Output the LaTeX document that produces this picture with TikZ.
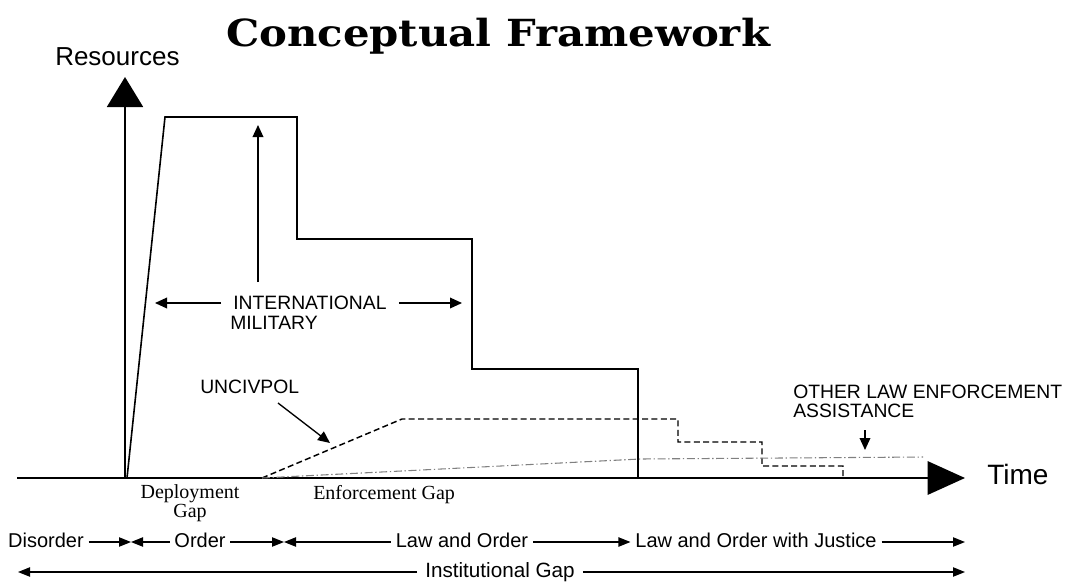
\documentclass[tikz,border=0pt]{standalone}
\usepackage{fontspec}
\setmainfont{Liberation Sans}
\newfontfamily\titlefont[FakeStretch=1.12]{DejaVu Serif}
\newfontfamily\gapfont{Liberation Serif}
\usepackage{tikz}
\usetikzlibrary{arrows.meta, positioning}
\tikzstyle{axisline} = [draw, line width=1.5pt]
\tikzstyle{milline} = [draw, line width=1.2pt, line join=miter]
\tikzstyle{police} = [draw, line width=1.1pt, dash pattern=on 4.5pt off 2.5pt]
\tikzstyle{otherline} = [draw, gray, line width=0.8pt, dash pattern=on 6pt off 2pt on 1pt off 2pt]
\tikzstyle{pointer} = [draw, line width=1pt, -{Triangle[length=9pt, width=8pt]}]
\tikzstyle{phasearrow} = [draw, line width=0.9pt, -{Triangle[length=9pt, width=7pt]}]
\tikzstyle{txt} = [inner sep=0, font=\fontsize{14.5}{16}\selectfont]
\tikzstyle{phase} = [txt, inner xsep=3.5pt, text height=10.5pt, text depth=3pt, font=\fontsize{15}{17}\selectfont]
\tikzstyle{gap} = [txt, font=\gapfont\fontsize{15}{17}\selectfont]

\begin{document}
\begin{tikzpicture}[x=0.75pt, y=-0.75pt]
			\useasboundingbox (0,0) rectangle (1071,583);
			% Place nodes
			\node [inner sep=0, anchor=base, font=\titlefont\bfseries\fontsize{28}{32}\selectfont] (title) at (498,46) {Conceptual Framework};
			\node [txt, anchor=base west, font=\fontsize{19.5}{22}\selectfont] (resources) at (55,65) {Resources};
			\node [txt, anchor=base west, font=\fontsize{21}{24}\selectfont] (time) at (987,484) {Time};
			
			\node [txt, anchor=west, inner xsep=9pt] (intl) at (221,303) {INTERNATIONAL};
			\node [txt, anchor=west] (mil) at (230,323) {MILITARY};
			\node [txt, anchor=west] (civpol) at (200,387) {UNCIVPOL};
			\node [txt, anchor=west] (olea) at (793,392) {OTHER LAW ENFORCEMENT};
			\node [txt, anchor=west] (assist) at (793,411) {ASSISTANCE};
			
			\node [gap, anchor=base] (deploy) at (190,498) {Deployment};
			\node [gap, anchor=base] (deploygap) at (190,517) {Gap};
			\node [gap, anchor=base west] (enforce) at (313,499) {Enforcement Gap};
			
			\node [phase] (disorder) at (46,542) {Disorder};
			\node [phase] (order) at (200,542) {Order};
			\node [phase] (law) at (462,542) {Law and Order};
			\node [phase] (justice) at (756,542) {Law and Order with Justice};
			\node [phase, inner xsep=6pt, font=\fontsize{15.5}{18}\selectfont] (inst) at (500,572) {Institutional Gap};
			
			\coordinate (origin) at (125,478);
			\coordinate (ytip) at (125,77);
			\coordinate (xstart) at (17,478);
			\coordinate (xtip) at (965,478);
			\coordinate (intlleft) at (155,303);
			\coordinate (intlright) at (462,303);
			\coordinate (milbase) at (258,282);
			\coordinate (miltop) at (258,125);
			\coordinate (civfrom) at (278,403);
			\coordinate (civtip) at (330,443);
			\coordinate (oleafrom) at (865,430);
			\coordinate (oleatip) at (865,450);
			\coordinate (bound1) at (131,542);
			\coordinate (bound2) at (284,542);
			\coordinate (phaseend) at (965,542);
			\coordinate (instleft) at (18,572);
			\coordinate (instright) at (965,572);
			
			% Draw axes and levels
			\path [axisline, -{Triangle[length=22.5pt, width=27pt]}] (origin) -- (ytip);
			\path [axisline, -{Triangle[length=28pt, width=25pt]}] (xstart) -- (xtip);
			\path [milline] (127,478) -- (165,117) -- (297,117) -- (297,239) -- (472,239) -- (472,369) -- (638,369) -- (638,478);
			\path [police] (262,478) -- (402,419) -- (678,419) -- (678,442) -- (762,442) -- (762,466) -- (843,466) -- (843,478);
			\path [otherline] (262,478) -- (640,459) -- (923,457);
			
			% Draw edges
			\path [pointer] (intl) -- (intlleft);
			\path [pointer] (intl) -- (intlright);
			\path [pointer] (milbase) -- (miltop);
			\path [pointer] (civfrom) -- (civtip);
			\path [pointer] (oleafrom) -- (oleatip);
			\path [phasearrow] (disorder) -- (bound1);
			\path [phasearrow] (order) -- (bound1);
			\path [phasearrow] (order) -- (bound2);
			\path [phasearrow] (law) -- (bound2);
			\path [phasearrow] (law) -- (justice);
			\path [phasearrow] (justice) -- (phaseend);
			\path [phasearrow] (inst) -- (instleft);
			\path [phasearrow] (inst) -- (instright);
		\end{tikzpicture}
\end{document}
